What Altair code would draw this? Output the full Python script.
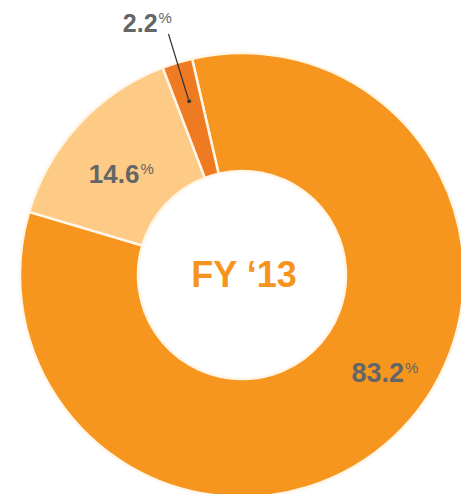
import math
import altair as alt
import pandas as pd

# ---- data ----
categories = ["Largest share", "Second share", "Smallest share"]
values = [83.2, 14.6, 2.2]
labels = ["83.2", "14.6", "2.2"]
colors = ["#F6961E", "#FDCB86", "#EE7B22"]
center_label = "FY \u201813"

df = pd.DataFrame({"cat": categories, "value": values, "label": labels})
df["end"] = df["value"].cumsum()
df["start"] = df["end"] - df["value"]
df["mid"] = df["start"] + df["value"] / 2

# ---- layout ----
W, H = 461, 494
CX, CY = 242, 275
START = math.radians(-13)
theta_scale = alt.Scale(domain=[0, 100], range=[START, START + 2 * math.pi])
GREY = "#646567"
FONT = "Liberation Sans"

base = alt.Chart(df)

arcs = base.mark_arc(innerRadius=104, outerRadius=222, stroke="#FFF6E8", strokeWidth=2.5).encode(
    theta=alt.Theta("start:Q", scale=theta_scale),
    theta2="end:Q",
    color=alt.Color("cat:N", scale=alt.Scale(domain=categories, range=colors), legend=None),
    x=alt.value(CX),
    y=alt.value(CY),
)

leader = base.transform_filter(alt.datum.label == "2.2").mark_arc(
    innerRadius=184, outerRadius=252, filled=False, stroke="#333333", strokeWidth=1.2
).encode(
    theta=alt.Theta("mid:Q", scale=theta_scale),
    theta2="mid:Q",
    x=alt.value(CX),
    y=alt.value(CY),
)

dot = base.transform_filter(alt.datum.label == "2.2").mark_text(
    text="\u25CF", fontSize=9, color="#333333", align="center", baseline="middle"
).encode(
    theta=alt.Theta("mid:Q", scale=theta_scale),
    radius=alt.value(182),
    x=alt.value(CX),
    y=alt.value(CY),
)


def label_layers(lab, r, dx, dy, size):
    sub = base.transform_filter(alt.datum.label == lab)
    enc = dict(
        theta=alt.Theta("mid:Q", scale=theta_scale),
        radius=alt.value(r),
        x=alt.value(CX),
        y=alt.value(CY),
    )
    num = sub.mark_text(
        font=FONT, fontWeight="bold", fontSize=size, color=GREY,
        align="right", baseline="alphabetic", dx=dx, dy=dy,
    ).encode(text="label:N", **enc)
    pct = sub.mark_text(
        text="%", font=FONT, fontSize=15, color=GREY,
        align="left", baseline="alphabetic", dx=dx + 1, dy=dy - 9,
    ).encode(**enc)
    return [num, pct]


texts = []
texts += label_layers("83.2", 165, 49, -13, 27)
texts += label_layers("14.6", 137, -2, 1, 26)
texts += label_layers("2.2", 255, -10, 1, 25)

center = alt.Chart(pd.DataFrame({"t": [center_label]})).mark_text(
    font=FONT, fontWeight="bold", fontSize=36, color="#F7941D",
    align="center", baseline="alphabetic", dx=2, dy=12,
).encode(text="t:N", x=alt.value(CX), y=alt.value(CY))

chart = alt.layer(arcs, leader, dot, *texts, center).properties(
    width=W, height=H, padding=0, autosize=alt.AutoSizeParams(type="none"), background="#FFFFFF"
).configure_view(stroke=None)

chart.save("out.html", embed_options={"renderer": "svg", "actions": False})
